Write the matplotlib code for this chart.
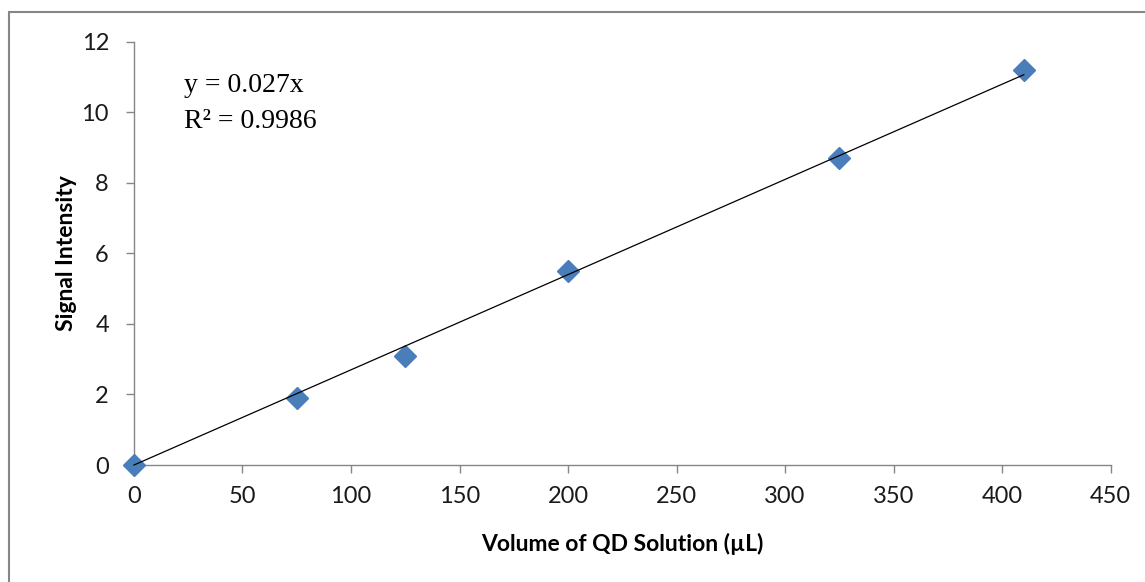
import numpy as np
import matplotlib.pyplot as plt
from matplotlib.patches import Rectangle

# data
volume = [0, 75, 125, 200, 325, 410]
signal = [0, 1.9, 3.1, 5.5, 8.7, 11.2]
slope = 0.027
r_squared = 0.9986
xticks = np.arange(0, 451, 50)
yticks = np.arange(0, 13, 2)

fig = plt.figure(figsize=(11.45, 5.82), dpi=100)
ax = fig.add_axes([0.117, 0.201, 0.853, 0.727])

# outer chart border (Excel style)
fig.patches.append(Rectangle((9 / 1145, -0.05), 1.1, 1 - 12 / 582 + 0.05,
                             transform=fig.transFigure, fill=False,
                             edgecolor='#868686', linewidth=1.5))

# trend line through origin over the data range
xs = np.array([min(volume), max(volume)])
ax.plot(xs, slope * xs, color='black', linewidth=0.9, zorder=4, clip_on=False)
ax.plot(volume, signal, linestyle='none', marker='D', markersize=11,
        color='#4A7EBB', zorder=3, clip_on=False)

ax.set_xlim(0, 450)
ax.set_ylim(0, 12)
ax.set_xticks(xticks)
ax.set_yticks(yticks)

for side in ['top', 'right']:
    ax.spines[side].set_visible(False)
for side in ['left', 'bottom']:
    ax.spines[side].set_color('#868686')
    ax.spines[side].set_linewidth(1.0)
ax.tick_params(direction='out', length=6, width=1.0, color='#868686',
               labelsize=17, labelcolor='#1a1a1a')
ax.tick_params(axis='x', pad=9)
ax.tick_params(axis='y', pad=12)
for lbl in ax.get_xticklabels() + ax.get_yticklabels():
    lbl.set_family('Lato')

ax.set_xlabel('Volume of QD Solution (µL)', fontsize=16.5, fontweight='bold',
              family='Lato', labelpad=19)
ax.set_ylabel('Signal Intensity', fontsize=16.5, fontweight='bold',
              family='Lato', labelpad=3)

fig.text(244 / 1145, 1 - 85 / 582, 'y = 0.027x', ha='center', va='center',
         fontsize=20, family='Liberation Serif')
fig.text(250 / 1145, 1 - 121 / 582, 'R² = ' + str(r_squared), ha='center',
         va='center', fontsize=20, family='Liberation Serif')

fig.savefig('out.png', dpi=100)
